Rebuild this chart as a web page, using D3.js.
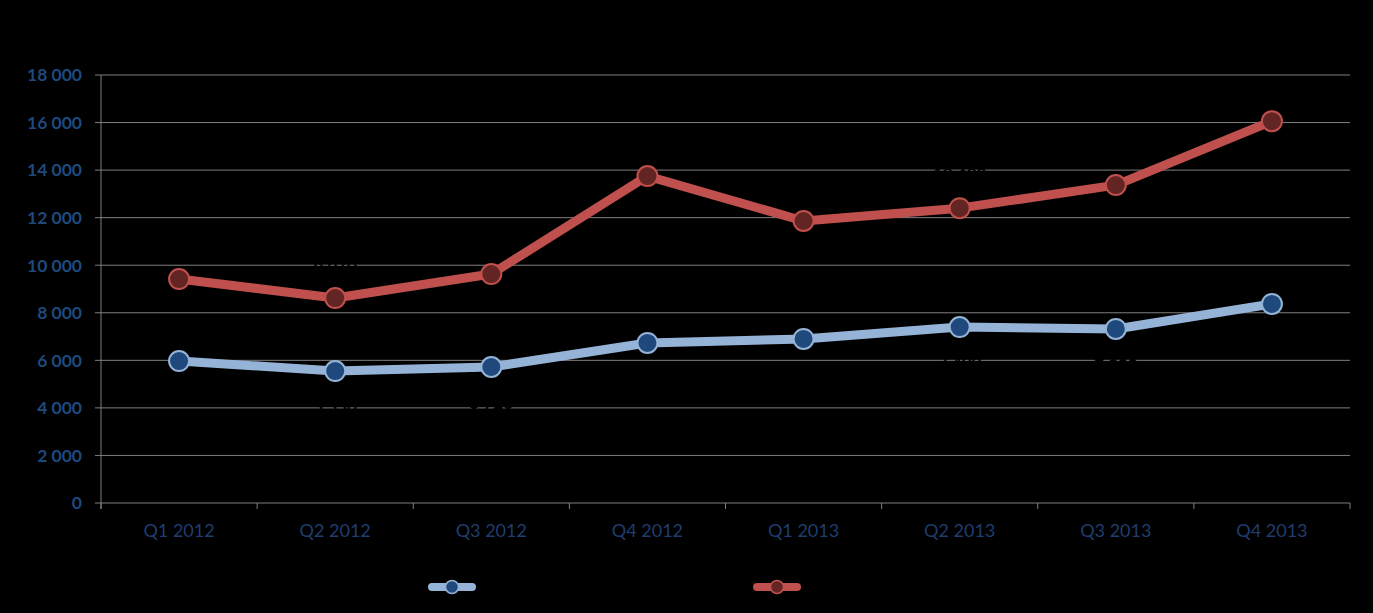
<!DOCTYPE html>
<html>
<head>
<meta charset="utf-8">
<script src="https://cdn.jsdelivr.net/npm/d3@7"></script>
<style>
  body { margin: 0; background: #000; }
  svg { display: block; font-family: Lato, "Open Sans", sans-serif; }
</style>
</head>
<body>
<svg id="chart" width="1373" height="613"></svg>
<script>
// data
var quarters = ['Q1 2012', 'Q2 2012', 'Q3 2012', 'Q4 2012', 'Q1 2013', 'Q2 2013', 'Q3 2013', 'Q4 2013'];
var blueValues = [5970, 5550, 5720, 6730, 6900, 7400, 7320, 8370];
var redValues = [9420, 8620, 9630, 13750, 11860, 12400, 13370, 16060];
var yTicks = [0, 2000, 4000, 6000, 8000, 10000, 12000, 14000, 16000, 18000];

var svg = d3.select('#chart');
// plot box (note: "top" is taken by window.top)
var plotLeft = 101, plotRight = 1350, plotTop = 75, plotBottom = 503;

var x = d3.scaleBand().domain(quarters).range([plotLeft, plotRight]);
var y = d3.scaleLinear().domain([0, 18000]).range([plotBottom, plotTop]);

var fmt = function(v) { return d3.format(',')(v).replace(/,/g, ' '); };
var cx = function(i) { return x(quarters[i]) + x.bandwidth() / 2; };

// gridlines
svg.append('g')
  .selectAll('line')
  .data(yTicks)
  .join('line')
  .attr('x1', plotLeft - 6)
  .attr('x2', plotRight)
  .attr('y1', function(d) { return y(d); })
  .attr('y2', function(d) { return y(d); })
  .attr('stroke', '#7f7f7f')
  .attr('stroke-width', 1);

// y axis line
svg.append('line')
  .attr('x1', plotLeft).attr('x2', plotLeft)
  .attr('y1', plotTop).attr('y2', plotBottom + 6)
  .attr('stroke', '#7f7f7f');

// x tick marks between categories
var xTickPos = quarters.map(function(q) { return x(q); }).concat([plotRight]);
svg.append('g')
  .selectAll('line')
  .data(xTickPos)
  .join('line')
  .attr('x1', function(d) { return d; })
  .attr('x2', function(d) { return d; })
  .attr('y1', plotBottom)
  .attr('y2', plotBottom + 6)
  .attr('stroke', '#7f7f7f');

// y labels
svg.append('g')
  .selectAll('text')
  .data(yTicks)
  .join('text')
  .attr('x', 82)
  .attr('y', function(d) { return y(d); })
  .attr('dy', '0.36em')
  .attr('text-anchor', 'end')
  .attr('font-size', 17.5)
  .attr('font-weight', 'bold')
  .attr('fill', '#1f497d')
  .text(fmt);

// x labels
svg.append('g')
  .selectAll('text')
  .data(quarters)
  .join('text')
  .attr('x', function(d, i) { return cx(i); })
  .attr('y', 537)
  .attr('text-anchor', 'middle')
  .attr('font-size', 18)
  .attr('fill', '#1f3d6e')
  .text(function(d) { return d; });

var series = [
  { values: blueValues, line: '#95b3d7', fill: '#1f497d', labelDy: 42 },
  { values: redValues, line: '#c0504d', fill: '#632523', labelDy: -28 }
];

var line = d3.line()
  .x(function(d, i) { return cx(i); })
  .y(function(d) { return y(d); });

series.forEach(function(s) {
  var g = svg.append('g');
  g.append('path')
    .attr('d', line(s.values))
    .attr('fill', 'none')
    .attr('stroke', s.line)
    .attr('stroke-width', 9)
    .attr('stroke-linejoin', 'round')
    .attr('stroke-linecap', 'round');
  g.selectAll('circle')
    .data(s.values)
    .join('circle')
    .attr('cx', function(d, i) { return cx(i); })
    .attr('cy', function(d) { return y(d); })
    .attr('r', 10)
    .attr('fill', s.fill)
    .attr('stroke', s.line)
    .attr('stroke-width', 2);
  // data labels are black on black in the original
  g.selectAll('text')
    .data(s.values)
    .join('text')
    .attr('x', function(d, i) { return cx(i); })
    .attr('y', function(d) { return y(d) + s.labelDy; })
    .attr('text-anchor', 'middle')
    .attr('font-size', 17)
    .attr('font-weight', 'bold')
    .attr('fill', '#000')
    .text(function(d) { return fmt(d); });
});

// legend
var legendX = [452, 777];
series.forEach(function(s, i) {
  var lg = svg.append('g').attr('transform', 'translate(' + legendX[i] + ',587)');
  lg.append('line')
    .attr('x1', -20).attr('x2', 20)
    .attr('stroke', s.line)
    .attr('stroke-width', 8)
    .attr('stroke-linecap', 'round');
  lg.append('circle')
    .attr('r', 6.5)
    .attr('fill', s.fill)
    .attr('stroke', s.line)
    .attr('stroke-width', 1.5);
});
</script>
</body>
</html>
